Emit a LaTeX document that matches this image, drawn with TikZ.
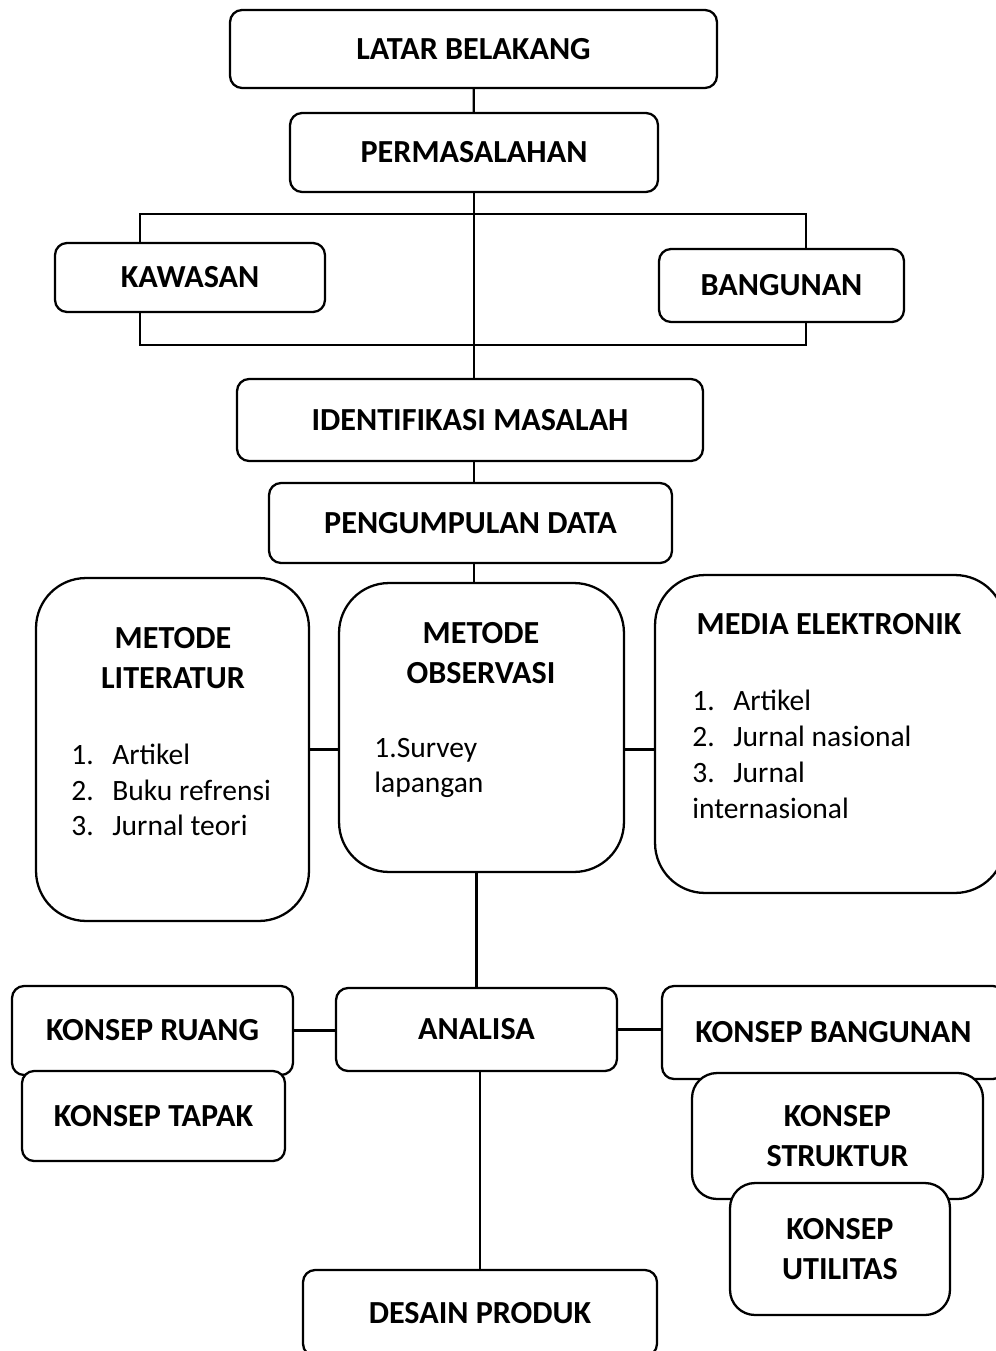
\documentclass[tikz,border=0pt]{standalone}
\usepackage{fontspec}
\setmainfont{Carlito}
\usepackage{tikz}
\usetikzlibrary{positioning, backgrounds}
\tikzstyle{box} = [rectangle, rounded corners=0.24cm, draw=black, line width=1.3pt, fill=white, inner sep=0pt, text centered, font=\fontsize{18.3}{22.7}\selectfont\bfseries]
\tikzstyle{bigbox} = [box, rounded corners=1cm]
\tikzstyle{midbox} = [box, rounded corners=0.5cm, align=center]
\tikzstyle{head} = [inner sep=0pt, align=center, font=\fontsize{18.3}{22.7}\selectfont\bfseries]
\tikzstyle{list} = [inner sep=0pt, align=left, anchor=west, font=\fontsize{16.8}{20.4}\selectfont]
\tikzstyle{line} = [line width=1.3pt]
\newcommand{\itm}[1]{\makebox[0.82cm][l]{#1}}

\begin{document}
\begin{tikzpicture}[x=0.02cm, y=-0.02cm]
    \useasboundingbox (0,0) rectangle (995,1351);
    % top part
    \node (a) [box, minimum width=9.74cm, minimum height=1.56cm] at (473.5,49) {LATAR BELAKANG};
    \node (b) [box, minimum width=7.36cm, minimum height=1.58cm] at (474,152.5) {PERMASALAHAN};
    \node (c) [box, minimum width=5.4cm, minimum height=1.38cm] at (190,277.5) {KAWASAN};
    \node (d) [box, minimum width=4.9cm, minimum height=1.46cm] at (781.5,285.5) {BANGUNAN};
    \node (e) [box, minimum width=9.32cm, minimum height=1.64cm] at (470,420) {IDENTIFIKASI MASALAH};
    \node (f) [box, minimum width=8.06cm, minimum height=1.6cm] at (470.5,523) {PENGUMPULAN DATA};

    % data collection methods
    \node (g) [bigbox, minimum width=5.46cm, minimum height=6.86cm] at (172.5,749.5) {};
    \node (g1) [head] at (173,658) {METODE\\LITERATUR};
    \node (g2) [list] at (71,790) {\itm{1.}Artikel\\\itm{2.}Buku refrensi\\\itm{3.}Jurnal teori};
    \node (h) [bigbox, minimum width=5.7cm, minimum height=5.78cm] at (481.5,727.5) {};
    \node (h1) [head] at (481,653.5) {METODE\\OBSERVASI};
    \node (h2) [list] at (374,768) {1.Survey\\lapangan};
    \node (i) [bigbox, minimum width=7cm, minimum height=6.36cm] at (830,734) {};
    \node (i1) [head] at (829,624) {MEDIA ELEKTRONIK};
    \node (i2) [list] at (692,754.5) {\itm{1.}Artikel\\\itm{2.}Jurnal nasional\\\itm{3.}Jurnal\\internasional};

    % concepts
    \node (j) [box, minimum width=5.62cm, minimum height=1.66cm] at (476.5,1029.5) {ANALISA};
    \node (k) [box, minimum width=5.62cm, minimum height=1.78cm] at (152.5,1030.5) {KONSEP RUANG};
    \node (l) [box, minimum width=5.26cm, minimum height=1.8cm] at (153.5,1116) {KONSEP TAPAK};
    \node (m) [box, minimum width=6.86cm, minimum height=1.86cm] at (833.5,1032.5) {KONSEP BANGUNAN};
    \node (n) [midbox, minimum width=5.82cm, minimum height=2.52cm] at (837.5,1136) {KONSEP\\STRUKTUR};
    \node (o) [midbox, minimum width=4.4cm, minimum height=2.64cm] at (840,1249) {KONSEP\\UTILITAS};
    \node (p) [box, minimum width=7.08cm, minimum height=1.72cm] at (480,1313) {DESAIN PRODUK};

    \begin{scope}[on background layer]
        \draw [line] (140,214) rectangle (806,345);
        \draw [line] (a) -- (b);
        \draw [line] (b.south) -- (b.south |- e.north);
        \draw [line] (e.south -| b.south) -- (f.north -| b.south);
        \draw [line] (f.south -| b.south) -- (h.north -| b.south);
        \draw [line] (g.east) -- (g.east -| h.west);
        \draw [line] (g.east -| h.east) -- (g.east -| i.west);
        \draw [line] (h.south -| j.north) -- (j.north);
        \draw [line] (k.east) -- (k.east -| j.west);
        \draw [line] (j.east) -- (j.east -| m.west);
        \draw [line] (j.south -| p.north) -- (p.north);
    \end{scope}
\end{tikzpicture}
\end{document}
